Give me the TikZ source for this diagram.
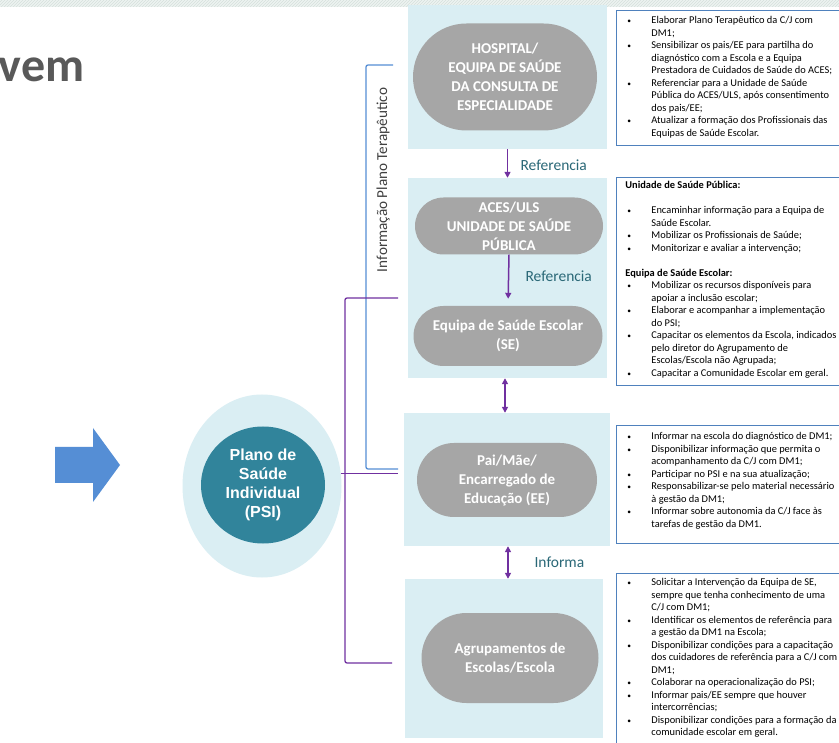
\documentclass[tikz,border=0pt]{standalone}
\usepackage{fontspec}
\setmainfont{Carlito}
\newfontfamily\arialf{Liberation Sans}
\usepackage{tikz}
\usetikzlibrary{arrows,arrows.meta,calc,positioning,shapes.geometric,patterns}

\definecolor{panelblue}{HTML}{DAEEF3}
\definecolor{actorgray}{HTML}{A6A6A6}
\definecolor{psiteal}{HTML}{31849B}
\definecolor{flowpurple}{HTML}{7030A0}
\definecolor{bracketblue}{HTML}{558ED5}
\definecolor{boxblue}{HTML}{4F81BD}
\definecolor{labelteal}{HTML}{2A6877}
\definecolor{titlegray}{HTML}{595959}
\definecolor{arrowblue}{HTML}{558ED5}
\definecolor{bandfill}{HTML}{EEF3F1}
\definecolor{hatch}{HTML}{D5E0DC}

\newcommand{\bitem}[1]{\par\hangindent=35pt\hangafter=1\noindent\hbox to 35pt{\hspace{11pt}{\fontsize{7.5}{7.5}\selectfont\textbullet}\hfil}#1}
\newcommand{\bhead}[1]{\par\noindent\hspace{9pt}\textbf{#1}}
\newcommand{\bskip}{\par\noindent\strut}
\newcommand{\boxtext}[3]{\parbox[t][#1][t]{262pt}{\raggedright\let\\\newline\fontsize{10.4}{12.5}\selectfont\vspace*{#2}#3}}

\tikzset{
  panel/.style={fill=panelblue, inner sep=0pt},
  actor/.style n args={2}{fill=actorgray, text=white, inner sep=0pt, align=center,
    minimum width=#1, minimum height=#2, rounded corners=#2/2,
    font=\bfseries\fontsize{15}{19}\selectfont},
  infobox/.style={draw=boxblue, line width=0.9pt, fill=white, anchor=north west, inner sep=0pt},
  flow/.style={draw=flowpurple, line width=1.5pt, -{Triangle[length=6pt,width=6pt]}},
  flowboth/.style={flow, {Triangle[length=6pt,width=6pt]}-{Triangle[length=6pt,width=6pt]}},
  flowlabel/.style={anchor=west, text=labelteal, font=\fontsize{15.5}{18}\selectfont},
  bracketb/.style={draw=bracketblue, line width=1.3pt, rounded corners=2pt},
  bracketp/.style={draw=flowpurple, line width=1.3pt, rounded corners=2pt}
}

\begin{document}
\begin{tikzpicture}[x=1pt,y=-1pt]
\path[use as bounding box, clip] (0,0) rectangle (839,743);
\fill[white] (0,0) rectangle (839,743);
\fill[bandfill] (0,0) rectangle (839,7);
\fill[pattern=north east lines, pattern color=hatch] (0,0) rectangle (839,7);

\node[anchor=base east, text=titlegray, font=\bfseries\fontsize{48}{50}\selectfont] (title) at (88,82) {vem};

\fill[arrowblue] (55,447) -- (93,447) -- (93,428) -- (120,465) -- (93,502) -- (93,483) -- (55,483) -- cycle;

\node[ellipse, fill=panelblue, minimum width=159, minimum height=183, inner sep=0pt] (psiouter) at (262,486) {};
\node[ellipse, fill=psiteal, minimum width=124, minimum height=117, inner sep=0pt, text=white, align=center,
  font=\arialf\bfseries\fontsize{16}{19}\selectfont] (psi) at (263,485) {Plano de\\Saúde\\Individual\\(PSI)};

\node[panel, minimum width=199, minimum height=144] (hosppanel) at (507.5,77) {};
\node[panel, minimum width=199, minimum height=200] (acespanel) at (507.5,278) {};
\node[panel, minimum width=206, minimum height=133] (paipanel) at (507,479.5) {};
\node[panel, minimum width=198, minimum height=159] (agruppanel) at (504,658.5) {};

\node[actor={184}{107}] (hosp) at (505,77) {HOSPITAL/\\EQUIPA DE SAÚDE\\DA CONSULTA DE\\ESPECIALIDADE};
\node[actor={188}{57}] (aces) at (509,226) {ACES/ULS\\UNIDADE DE SAÚDE\\PÚBLICA};
\node[actor={189}{60}] (se) at (508,336) {Equipa de Saúde Escolar\\(SE)};
\node[actor={180}{74}] (pai) at (507,480) {Pai/Mãe/\\Encarregado de\\Educação (EE)};
\node[actor={177}{90}] (agrup) at (510,658) {Agrupamentos de\\Escolas/Escola};

\draw[flow] (hosppanel.south) -- (acespanel.north);
\draw[flow, shorten >=7pt] (aces.south) -- (se.north);
\draw[flowboth] ([xshift=-2.5pt]acespanel.south) -- ([xshift=-2pt]paipanel.north);
\draw[flowboth] ([xshift=1pt]paipanel.south) -- ([xshift=4pt]agruppanel.north);
\node[flowlabel] (ref1) at (517,165) {Referencia};
\node[flowlabel] (ref2) at (522,276) {Referencia};
\node[flowlabel] (informa) at (531,562) {Informa};

\coordinate (btop) at (393,65);
\coordinate (bbot) at (398,469);
\draw[bracketb] (btop) -- ++(-27,0) |- (bbot);
\node[rotate=90, text=black!75, font=\fontsize{15.2}{17}\selectfont] (infolabel) at (383,180) {Informação Plano Terapêutico};

\coordinate (ptop) at (398,298);
\coordinate (pbot) at (392,663);
\draw[bracketp] (ptop) -- ++(-53,0) |- (pbot);
\draw[bracketp] (psiouter.9) -- (psiouter.9 -| ptop);

\node[infobox] (hospbox) at (616,10) {\boxtext{135pt}{6pt}{%
\bitem{Elaborar Plano Terapêutico da C/J com\\DM1;}
\bitem{Sensibilizar os pais/EE para partilha do\\diagnóstico com a Escola e a Equipa\\Prestadora de Cuidados de Saúde do ACES;}
\bitem{Referenciar para a Unidade de Saúde\\Pública do ACES/ULS, após consentimento\\dos pais/EE;}
\bitem{Atualizar a formação dos Profissionais das\\Equipas de Saúde Escolar.}}};

\node[infobox] (acesbox) at (616,177) {\boxtext{208pt}{4pt}{%
\bhead{Unidade de Saúde Pública:}
\bskip
\bitem{Encaminhar informação para a Equipa de\\Saúde Escolar.}
\bitem{Mobilizar os Profissionais de Saúde;}
\bitem{Monitorizar e avaliar a intervenção;}
\bskip
\bhead{Equipa de Saúde Escolar:}
\bitem{Mobilizar os recursos disponíveis para\\apoiar a inclusão escolar;}
\bitem{Elaborar e acompanhar a implementação\\do PSI;}
\bitem{Capacitar os elementos da Escola, indicados\\pelo diretor do Agrupamento de\\Escolas/Escola não Agrupada;}
\bitem{Capacitar a Comunidade Escolar em geral.}}};

\node[infobox] (paibox) at (616,425) {\boxtext{118pt}{7pt}{%
\bitem{Informar na escola do diagnóstico de DM1;}
\bitem{Disponibilizar informação que permita o\\acompanhamento da C/J com DM1;}
\bitem{Participar no PSI e na sua atualização;}
\bitem{Responsabilizar-se pelo material necessário\\à gestão da DM1;}
\bitem{Informar sobre autonomia da C/J face às\\tarefas de gestão da DM1.}}};

\node[infobox] (agrupbox) at (616,573) {\boxtext{200pt}{5pt}{%
\bitem{Solicitar a Intervenção da Equipa de SE,\\sempre que tenha conhecimento de uma\\C/J com DM1;}
\bitem{Identificar os elementos de referência para\\a gestão da DM1 na Escola;}
\bitem{Disponibilizar condições para a capacitação\\dos cuidadores de referência para a C/J com\\DM1;}
\bitem{Colaborar na operacionalização do PSI;}
\bitem{Informar pais/EE sempre que houver\\intercorrências;}
\bitem{Disponibilizar condições para a formação da\\comunidade escolar em geral.}}};
\end{tikzpicture}
\end{document}
